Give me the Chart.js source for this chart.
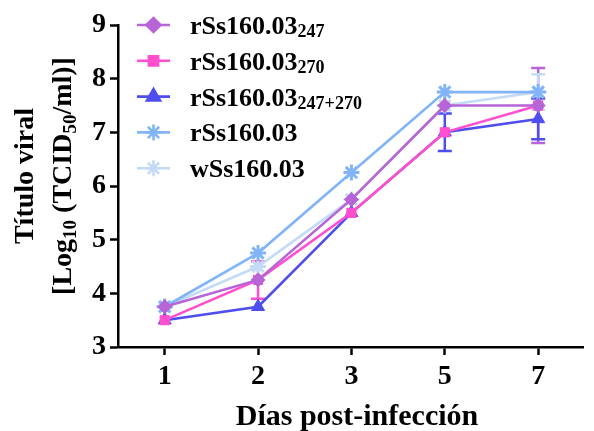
<!DOCTYPE html>
<html>
<head>
<meta charset="utf-8">
<script src="https://cdn.jsdelivr.net/npm/chart.js@4"></script>
<style>
  html, body { margin: 0; padding: 0; background: #ffffff; }
  #wrap { width: 594px; height: 431px; position: relative; }
</style>
</head>
<body>
<div id="wrap"><canvas id="c"></canvas></div>
<script>
// Sampling days (x categories) and y-axis range
const days = ['1', '2', '3', '5', '7'];
const yMin = 3, yMax = 9, yStep = 1;

// Viral titre, log10 TCID50/ml, mean and error per day
const rSs247      = [3.75, 4.25, 5.75, 7.5, 7.5];
const rSs247Err   = [0, 0, 0, 0, 0.7];
const rSs270      = [3.5, 4.25, 5.5, 7.0, 7.5];
const rSs270Err   = [0, 0.35, 0, 0, 0];
const rSs247_270    = [3.5, 3.75, 5.5, 7.0, 7.25];
const rSs247_270Err = [0, 0, 0, 0.35, 0.38];
const rSs         = [3.75, 4.75, 6.25, 7.75, 7.75];
const rSsErr      = [0, 0, 0, 0, 0];
const wSs         = [3.75, 4.5, 5.75, 7.5, 7.75];
const wSsErr      = [0, 0, 0, 0, 0.33];

// Series names: base text plus subscript
const seriesNames = [
  { base: 'rSs160.03', sub: '247' },
  { base: 'rSs160.03', sub: '270' },
  { base: 'rSs160.03', sub: '247+270' },
  { base: 'rSs160.03', sub: '' },
  { base: 'wSs160.03', sub: '' }
];

const SERIF = '"Liberation Serif", "Times New Roman", serif';

function toPoints(vals) { return vals.map((v, i) => ({ x: i + 1, y: v })); }

function makeSet(name, vals, errs, color, style, radius, pbw) {
  return {
    label: name.base + name.sub,
    nameParts: name,
    data: toPoints(vals),
    errors: errs,
    borderColor: color,
    backgroundColor: color,
    pointBackgroundColor: color,
    pointBorderColor: color,
    pointStyle: style,
    pointRadius: radius,
    pointHoverRadius: radius,
    pointBorderWidth: pbw,
    borderWidth: 2.6,
    tension: 0,
    fill: false
  };
}

const datasets = [
  makeSet(seriesNames[0], rSs247, rSs247Err, '#b664d6', 'rectRot', 7, 1),
  makeSet(seriesNames[1], rSs270, rSs270Err, '#ff4fcf', 'rect', 6.5, 1),
  makeSet(seriesNames[2], rSs247_270, rSs247_270Err, '#4d4df0', 'triangle', 7.5, 1),
  makeSet(seriesNames[3], rSs, rSsErr, '#82b4f8', 'star', 8, 3),
  makeSet(seriesNames[4], wSs, wSsErr, '#c4dbf7', 'star', 8, 3)
];

function richWidth(ctx, parts, mainFont, subFont) {
  let w = 0;
  for (const p of parts) {
    ctx.font = p.sub ? subFont : mainFont;
    w += ctx.measureText(p.t).width;
  }
  return w;
}
function drawRich(ctx, x, y, parts, mainFont, subFont, subDrop) {
  let cx = x;
  for (const p of parts) {
    ctx.font = p.sub ? subFont : mainFont;
    ctx.fillText(p.t, cx, y + (p.sub ? subDrop : 0));
    cx += ctx.measureText(p.t).width;
  }
}

// Error bars, legend with subscripts and axis titles
const decorations = {
  id: 'decorations',
  beforeDatasetsDraw(chart) {
    const ctx = chart.ctx;
    const xs = chart.scales.x, ys = chart.scales.y;
    ctx.save();
    ctx.lineWidth = 2.5;
    chart.data.datasets.forEach((ds) => {
      ctx.strokeStyle = ds.borderColor;
      ds.data.forEach((p, i) => {
        const e = ds.errors[i];
        if (!e) return;
        const px = xs.getPixelForValue(p.x);
        const top = ys.getPixelForValue(p.y + e);
        const bot = ys.getPixelForValue(p.y - e);
        ctx.beginPath();
        ctx.moveTo(px, top); ctx.lineTo(px, bot);
        ctx.moveTo(px - 7, top); ctx.lineTo(px + 7, top);
        ctx.moveTo(px - 7, bot); ctx.lineTo(px + 7, bot);
        ctx.stroke();
      });
    });
    ctx.restore();
  },
  afterDraw(chart) {
    const ctx = chart.ctx;
    const area = chart.chartArea;
    ctx.save();
    ctx.fillStyle = '#000';
    ctx.textBaseline = 'alphabetic';
    ctx.textAlign = 'left';

    // Legend
    const legX = area.left + 19, legY = area.top, rowH = 35.8;
    chart.data.datasets.forEach((ds, i) => {
      const cy = legY + i * rowH;
      ctx.strokeStyle = ds.borderColor;
      ctx.lineWidth = 2.6;
      ctx.beginPath();
      ctx.moveTo(legX, cy); ctx.lineTo(legX + 33, cy);
      ctx.stroke();
      ctx.fillStyle = ds.backgroundColor;
      Chart.helpers.drawPoint(ctx, {
        pointStyle: ds.pointStyle, radius: ds.pointRadius,
        borderWidth: ds.pointBorderWidth, rotation: 0
      }, legX + 16.5, cy);
      if (ds.pointStyle !== 'star') ctx.fill();
      ctx.fillStyle = '#000';
      const parts = [{ t: ds.nameParts.base }];
      if (ds.nameParts.sub) parts.push({ t: ds.nameParts.sub, sub: true });
      drawRich(ctx, legX + 53, cy + 9, parts,
        'bold 26px ' + SERIF, 'bold 18px ' + SERIF, 3);
    });

    // Y axis title (two rotated lines)
    const cyT = 176;
    const line1 = [{ t: 'Título viral' }];
    const line2 = [{ t: '[Log' }, { t: '10', sub: true }, { t: ' (TCID' },
                   { t: '50', sub: true }, { t: '/ml)]' }];
    const mf = 'bold 28px ' + SERIF, sf = 'bold 19px ' + SERIF;
    [[line1, 33], [line2, 71]].forEach(([parts, bx]) => {
      const w = richWidth(ctx, parts, mf, sf);
      ctx.save();
      ctx.translate(bx, cyT);
      ctx.rotate(-Math.PI / 2);
      drawRich(ctx, -w / 2, 0, parts, mf, sf, 5);
      ctx.restore();
    });

    // X axis title
    ctx.font = 'bold 30px ' + SERIF;
    ctx.textAlign = 'center';
    ctx.fillText('Días post-infección', 357, 425);
    ctx.restore();
  }
};

new Chart(document.getElementById('c'), {
  type: 'line',
  data: { datasets },
  options: {
    responsive: true,
    maintainAspectRatio: false,
    animation: false,
    devicePixelRatio: 1,
    layout: { padding: { top: 25, right: 0, bottom: 0, left: 0 } },
    plugins: { legend: { display: false }, tooltip: { enabled: false } },
    scales: {
      x: {
        type: 'linear',
        min: 0.5,
        max: 5.48,
        afterFit(s) { s.height = 84; },
        afterBuildTicks(s) { s.ticks = days.map((d, i) => ({ value: i + 1 })); },
        ticks: {
          autoSkip: false,
          maxRotation: 0,
          padding: 5,
          color: '#000',
          font: { family: SERIF, size: 28, weight: 'bold' },
          callback: (v) => days[v - 1]
        },
        grid: { drawOnChartArea: false, drawTicks: true, tickLength: 8, tickWidth: 2.5, tickColor: '#000' },
        border: { display: true, color: '#000', width: 2.5 }
      },
      y: {
        min: yMin,
        max: yMax,
        afterFit(s) { s.width = 118; },
        ticks: {
          stepSize: yStep,
          padding: 4,
          color: '#000',
          font: { family: SERIF, size: 28, weight: 'bold' }
        },
        grid: { drawOnChartArea: false, drawTicks: true, tickLength: 8, tickWidth: 2.5, tickColor: '#000' },
        border: { display: true, color: '#000', width: 2.5 }
      }
    }
  },
  plugins: [decorations]
});
</script>
</body>
</html>
